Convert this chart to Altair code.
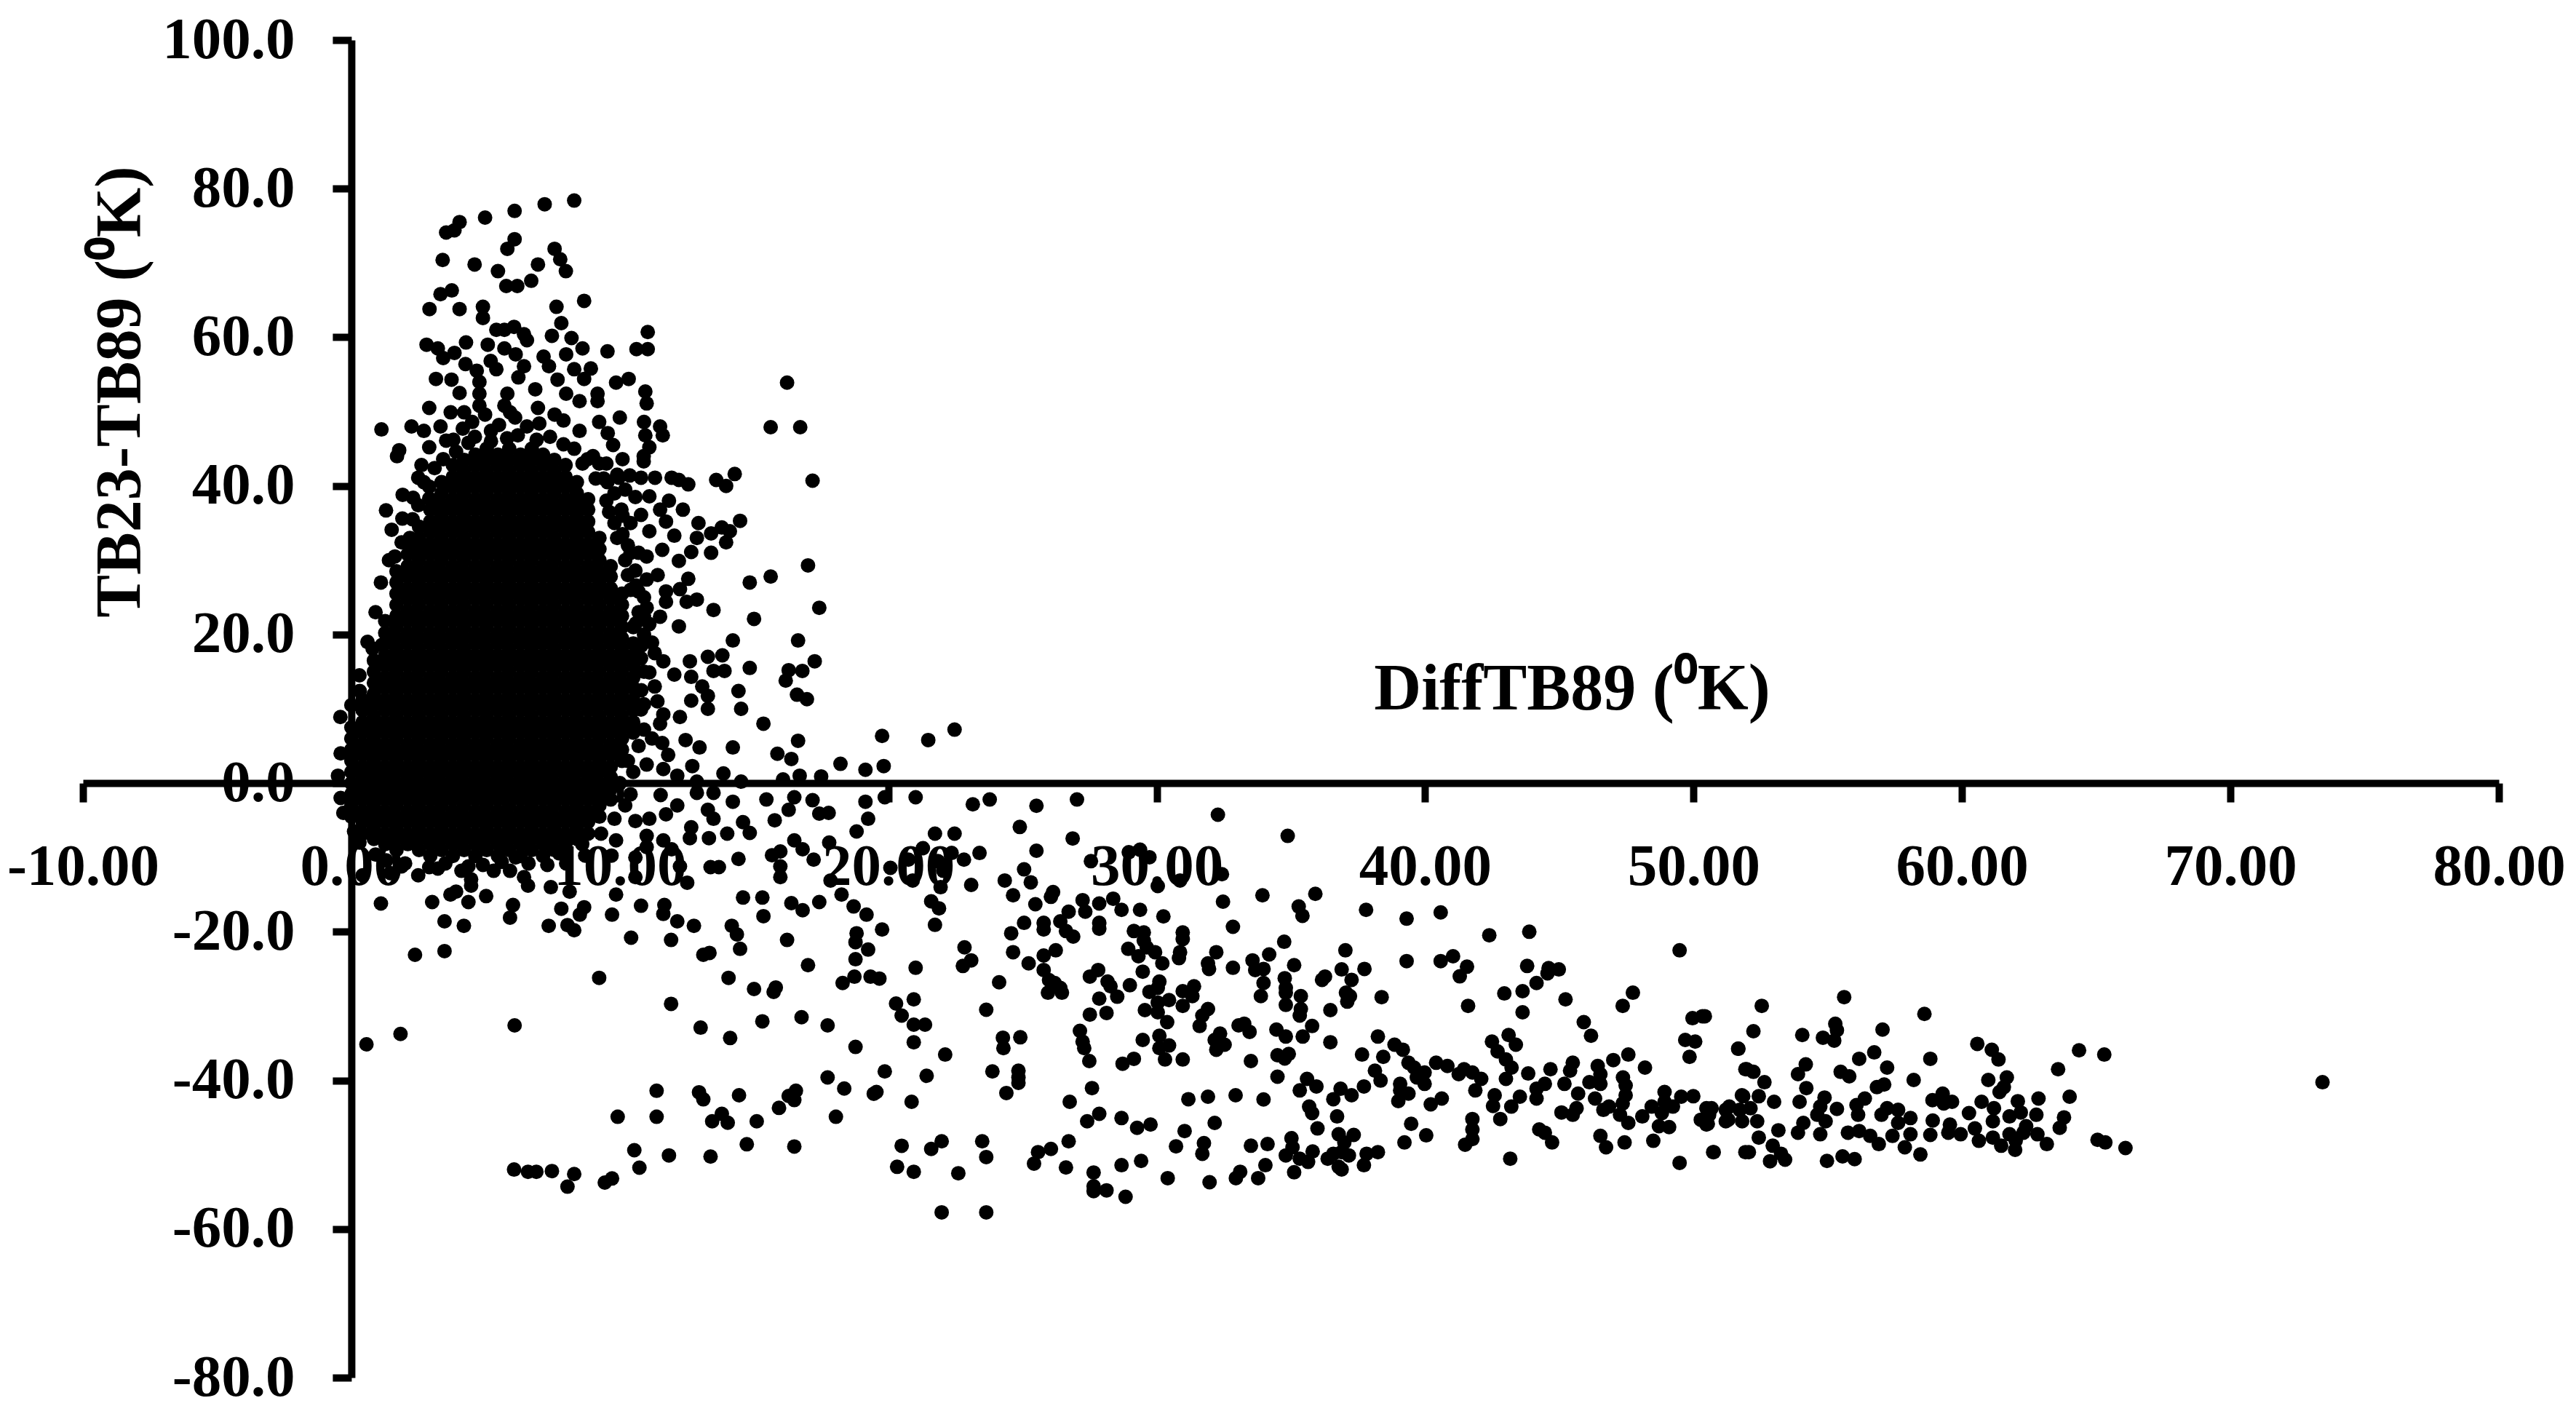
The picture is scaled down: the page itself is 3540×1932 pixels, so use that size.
import altair as alt
import pandas as pd

X_TICKS = [-10, 0, 10, 20, 30, 40, 50, 60, 70, 80]
Y_TICKS = [-80, -60, -40, -20, 0, 20, 40, 60, 80, 100]

# Dense core: individual dots cannot be told apart here, so these are columns of estimated positions
CORE = [
 (0.00, [-4.5,-3,-1.5,0,1.5,3,4.5,6,7.5]),
 (0.42, [-6.8,-5.2,-3.8,-2.2,-0.8,0.8,2.2,3.8,5.2,6.8,8.2,9.8,11.2]),
 (0.84, [-7.5,-6,-4.5,-3,-1.5,0,1.5,3,4.5,6,7.5,9,10.5,12,13.5,15,16.5]),
 (1.26, [-8.2,-6.8,-5.2,-3.8,-2.2,-0.8,0.8,2.2,3.8,5.2,6.8,8.2,9.8,11.2,12.8,14.2,15.8,17.2,18.8,20.2,21.8]),
 (1.68, [-9,-7.5,-6,-4.5,-3,-1.5,0,1.5,3,4.5,6,7.5,9,10.5,12,13.5,15,16.5,18,19.5,21,22.5,24,25.5,27,28.5]),
 (2.10, [-8.2,-6.8,-5.2,-3.8,-2.2,-0.8,0.8,2.2,3.8,5.2,6.8,8.2,9.8,11.2,12.8,14.2,15.8,17.2,18.8,20.2,21.8,23.2,24.8,26.2,27.8,29.2,30.8,32.2]),
 (2.52, [-9,-7.5,-6,-4.5,-3,-1.5,0,1.5,3,4.5,6,7.5,9,10.5,12,13.5,15,16.5,18,19.5,21,22.5,24,25.5,27,28.5,30,31.5,33,34.5]),
 (2.94, [-9.8,-8.2,-6.8,-5.2,-3.8,-2.2,-0.8,0.8,2.2,3.8,5.2,6.8,8.2,9.8,11.2,12.8,14.2,15.8,17.2,18.8,20.2,21.8,23.2,24.8,26.2,27.8,29.2,30.8,32.2,33.8,35.2,36.8,38.2]),
 (3.36, [-9,-7.5,-6,-4.5,-3,-1.5,0,1.5,3,4.5,6,7.5,9,10.5,12,13.5,15,16.5,18,19.5,21,22.5,24,25.5,27,28.5,30,31.5,33,34.5,36,37.5,39,40.5]),
 (3.78, [-9.8,-8.2,-6.8,-5.2,-3.8,-2.2,-0.8,0.8,2.2,3.8,5.2,6.8,8.2,9.8,11.2,12.8,14.2,15.8,17.2,18.8,20.2,21.8,23.2,24.8,26.2,27.8,29.2,30.8,32.2,33.8,35.2,36.8,38.2,39.8,41.2,42.8]),
 (4.20, [-9,-7.5,-6,-4.5,-3,-1.5,0,1.5,3,4.5,6,7.5,9,10.5,12,13.5,15,16.5,18,19.5,21,22.5,24,25.5,27,28.5,30,31.5,33,34.5,36,37.5,39,40.5,42,43.5]),
 (4.62, [-9.8,-8.2,-6.8,-5.2,-3.8,-2.2,-0.8,0.8,2.2,3.8,5.2,6.8,8.2,9.8,11.2,12.8,14.2,15.8,17.2,18.8,20.2,21.8,23.2,24.8,26.2,27.8,29.2,30.8,32.2,33.8,35.2,36.8,38.2,39.8,41.2,42.8,44.2]),
 (5.04, [-9,-7.5,-6,-4.5,-3,-1.5,0,1.5,3,4.5,6,7.5,9,10.5,12,13.5,15,16.5,18,19.5,21,22.5,24,25.5,27,28.5,30,31.5,33,34.5,36,37.5,39,40.5,42,43.5,45]),
 (5.46, [-9.8,-8.2,-6.8,-5.2,-3.8,-2.2,-0.8,0.8,2.2,3.8,5.2,6.8,8.2,9.8,11.2,12.8,14.2,15.8,17.2,18.8,20.2,21.8,23.2,24.8,26.2,27.8,29.2,30.8,32.2,33.8,35.2,36.8,38.2,39.8,41.2,42.8,44.2]),
 (5.88, [-9,-7.5,-6,-4.5,-3,-1.5,0,1.5,3,4.5,6,7.5,9,10.5,12,13.5,15,16.5,18,19.5,21,22.5,24,25.5,27,28.5,30,31.5,33,34.5,36,37.5,39,40.5,42,43.5,45]),
 (6.30, [-9.8,-8.2,-6.8,-5.2,-3.8,-2.2,-0.8,0.8,2.2,3.8,5.2,6.8,8.2,9.8,11.2,12.8,14.2,15.8,17.2,18.8,20.2,21.8,23.2,24.8,26.2,27.8,29.2,30.8,32.2,33.8,35.2,36.8,38.2,39.8,41.2,42.8,44.2]),
 (6.72, [-9,-7.5,-6,-4.5,-3,-1.5,0,1.5,3,4.5,6,7.5,9,10.5,12,13.5,15,16.5,18,19.5,21,22.5,24,25.5,27,28.5,30,31.5,33,34.5,36,37.5,39,40.5,42,43.5,45]),
 (7.14, [-9.8,-8.2,-6.8,-5.2,-3.8,-2.2,-0.8,0.8,2.2,3.8,5.2,6.8,8.2,9.8,11.2,12.8,14.2,15.8,17.2,18.8,20.2,21.8,23.2,24.8,26.2,27.8,29.2,30.8,32.2,33.8,35.2,36.8,38.2,39.8,41.2,42.8,44.2]),
 (7.56, [-9,-7.5,-6,-4.5,-3,-1.5,0,1.5,3,4.5,6,7.5,9,10.5,12,13.5,15,16.5,18,19.5,21,22.5,24,25.5,27,28.5,30,31.5,33,34.5,36,37.5,39,40.5,42,43.5]),
 (7.98, [-8.2,-6.8,-5.2,-3.8,-2.2,-0.8,0.8,2.2,3.8,5.2,6.8,8.2,9.8,11.2,12.8,14.2,15.8,17.2,18.8,20.2,21.8,23.2,24.8,26.2,27.8,29.2,30.8,32.2,33.8,35.2,36.8,38.2,39.8,41.2,42.8]),
 (8.40, [-7.5,-6,-4.5,-3,-1.5,0,1.5,3,4.5,6,7.5,9,10.5,12,13.5,15,16.5,18,19.5,21,22.5,24,25.5,27,28.5,30,31.5,33,34.5,36,37.5,39,40.5]),
 (8.82, [-6.8,-5.2,-3.8,-2.2,-0.8,0.8,2.2,3.8,5.2,6.8,8.2,9.8,11.2,12.8,14.2,15.8,17.2,18.8,20.2,21.8,23.2,24.8,26.2,27.8,29.2,30.8,32.2,33.8,35.2,36.8,38.2]),
 (9.24, [-4.5,-3,-1.5,0,1.5,3,4.5,6,7.5,9,10.5,12,13.5,15,16.5,18,19.5,21,22.5,24,25.5,27,28.5,30,31.5,33]),
 (9.66, [-2.2,-0.8,0.8,2.2,3.8,5.2,6.8,8.2,9.8,11.2,12.8,14.2,15.8,17.2,18.8,20.2,21.8,23.2,24.8,26.2,27.8,29.2]),
 (10.08, [3,4.5,6,7.5,9,10.5,12,13.5,15,16.5,18,19.5,21,22.5,24,25.5]),
 (10.50, [6.8,8.2,9.8,11.2,12.8,14.2,15.8,17.2,18.8]),
]

EDGE = [
 (3.8,46.2),(4.6,46.6),(5.2,46),(5.8,46.4),(6.2,46.8),(6.9,46.2),(7.4,46.6),(7.9,45.6),(8.3,45),(8.8,43.6),(9.1,41),(9.5,38),(9.8,35),(10.1,33.5),
 (3.1,42.4),(2.7,40.5),(2.3,38.4),(1.9,35.6),(1.4,30),(1.1,27),(0.9,23),(0.6,19),(0.3,14.5),(5.5,48.2),(6.1,49.2),(7.0,48.4),(7.9,48.8),(4.5,48.6),(3.9,44.6),
 (10.3,28),(10.6,26.6),(10.7,23),(10.5,21),(11.1,21.4),(10.8,18.5),(11.3,17.5),(10.9,15),(11.4,11),(10.9,10.6),(11.5,8),(10.7,5),(11.8,3.8),(10.2,-3),(9.8,-4.8),(9.3,-6.8),(8.6,-8.2),(8.0,-10.8),(7.3,-11),
 (0.3,-8),(0.9,-9.6),(1.3,-10.4),(2,-10.8),(2.9,-11.3),(3.5,-10.8),(4.1,-11.8),(4.9,-11),(5.3,-11.8),(6.6,-10.8),(0.1,-6.5),(-0.3,-4),
 (9.0,44),(9.5,43),(9.9,41.5),(9.4,41),(9.8,39),(10.2,39.5),(9.6,36.5),(10.1,36),(10.4,35),(9.9,33),(10.4,31),(10.7,31),(10.4,26),(10.9,25),(10.9,22.5),
]

UPPER = [
 (8.30,78.4),(7.2,77.9),(6.08,77),(4.98,76.1),(4.03,75.5),(3.84,74.4),(3.53,74.1),(6.08,73.2),(5.81,71.9),(7.57,71.9),
 (7.78,70.5),(7.99,68.9),(3.40,70.4),(4.59,69.8),(5.46,68.9),(6.95,69.8),(6.70,67.6),(5.77,66.9),(6.18,66.9),(3.74,66.3),
 (3.32,65.8),(2.91,63.8),(4.03,63.8),(4.90,64.1),(4.90,62.6),(7.64,64.1),(8.67,64.9),(7.82,61.9),(11.04,60.7),(10.62,58.4),
 (11.04,58.4),(9.54,58.1),(5.4,61),(5.7,61),(6.06,61.4),(6.43,60.4),(7.47,60.2),(8.2,59.9),(2.8,59),(4.27,59.3),
 (5.08,59),(5.7,58.5),(6.54,59.6),(8.61,58.5),(3.22,58.5),(3.42,57.2),(3.84,57.9),(5.19,56.8),(6.12,57.7),(7.16,57.4),
 (8.0,57.7),(4.25,56.4),(5.4,55.7),(6.43,56.1),(7.36,56.1),(8.3,55.7),(8.92,55.8),(4.67,55.5),(3.15,54.4),(3.73,54.3),
 (4.77,54),(6.22,54.6),(7.68,54.3),(8.67,54.4),(9.86,53.9),(10.33,54.4),(10.95,52.7),(4.03,52.5),(4.77,52.4),(5.81,52.4),
 (6.85,53),(8.0,52.4),(9.17,52.4),(9.17,51.4),(11,51.1),(2.9,50.5),(4.77,50.8),(5.7,50.8),(6.95,50.5),(8.5,51.4),
 (3.7,49.9),(4.2,49.9),(4.98,49.6),(5.91,49.9),(7.57,49.6),(10,49.2),(9.23,48.6),(10.9,48.6),(11.5,48),(11.6,46.8),
 (10.95,46.8),(1.12,47.6),(2.24,48),(2.7,47.4),(3.32,48),(4.15,47.7),(5.2,47.4),(6.54,48),(8.5,47.4),(9.55,47.1),
 (11.1,45.2),(1.78,44.8),(1.7,44),(2.9,45.2),(3.53,46.1),(4.36,45.8),(9.75,45.5),(10.89,44),(10.89,43.3),(3.42,43.6),
 (10.1,43.6),(2.61,42.8),(8.61,43),(9.23,43),(2.49,41.1),(9.54,40.5),(9.96,41.1),(10.37,41.4),(10.79,41.1),(11.31,41.1),
 (11.93,41.1),(12.55,40.2),(12.2,40.8),(14.28,41.6),(13.59,40.8),(13.96,40),(17.18,40.7),(16.23,53.9),(15.62,47.9),(16.72,47.9),
 (1.91,38.8),(2.9,39.9),(2.9,38.3),(1.29,36.7),(2.49,37.4),(2.28,35.5),(10.58,38.5),(11.1,38.6),(11.83,38),(12.35,36.8),
 (10.79,36.1),(10.06,36.8),(11.5,36.8),(11.72,35.2),(12.93,35),(14.48,35.3),(13.8,34.4),(14.1,33.9),(13.4,33.6),(12.87,33),
 (11.1,33.9),(12.03,33.3),(13.96,32.4),(1.5,34.1),(1.87,32.4),(2.18,33),(1.62,30.5),(13.4,31),(12.66,31.1),(11.58,31.4),
 (11,30.5),(12.2,29.9),(10.58,28.6),(17.01,29.3),(15.62,27.8),(14.84,27),(12.55,27.5),(11.41,28),(11,27.4),(12.24,26.1),
 (10.69,25.8),(11.72,25.8),(12.87,24.7),(12.49,24.4),(11.72,24.4),(17.43,23.6),(13.49,23.3),(11,23.6),(15,22.1),(11.5,22.4),
 (12.2,21.1),(14.21,19.2),(11.2,18.9),(16.64,19.2),(0.79,18.1),(1.14,18.6),(13.28,17),(13.82,17.2),(12.61,16.4),(10.79,16.8),
 (11.62,16.4),(17.26,16.4),(11.1,14.9),(13.49,15.1),(13.9,15.1),(14.84,15.5),(16.8,15.1),(16.29,15.2),(16.18,13.8),(12.03,14.6),
 (12.66,14.3),(11.3,13),(13.07,13),(14.42,12.4),(13.28,11.75),(16.6,11.9),(16.97,11.3),(12.66,11.1),(14.52,10),(13.28,10),
 (11.62,9.25),(10.79,9.9),(12.24,8.9),(15.35,8),(-0.41,8.9),(0,10.5),(0.31,12.4),(10.3,32),(10.2,30),(10.6,21.5),(10.9,20),
 (10.8,12.5),(10.9,7.2),(11.2,6),(10.3,3),(10.5,1.5),(11,2.5),(10,0),(10.4,-1.5),(-0.5,1),(-0.4,4),(-0.4,-2),
]

MIDDLE = [
 (12.45,5.8),(12.97,4.8),(14.21,4.8),(15.87,3.95),(16.64,5.7),(16.39,3.25),(11.58,5.4),(18.22,2.6),(19.15,1.8),(12.7,2.3),
 (13.86,1.3),(16.7,1),(17.5,0.9),(12.14,1),(11.62,1.9),(12.87,0.2),(14.52,0.2),(16.08,0.5),(12.87,-1.3),(13.49,-1.3),
 (11.52,-1.6),(15.46,-2.2),(14.21,-2.5),(16.5,-1.9),(17.18,-2.3),(19.15,-2.5),(12.14,-3.0),(13.28,-3.6),(16.29,-3.6),(17.43,-4.1),
 (17.78,-4.0),(11.72,-4.2),(11.1,-4.8),(10.58,-5.1),(13.49,-4.8),(15.77,-5),(19.25,-4.8),(14.59,-5.25),(12.66,-5.95),(14.84,-6.7),
 (14,-6.8),(18.82,-6.5),(12.61,-7.4),(13.32,-7.4),(11,-7.1),(11.62,-7.7),(9.86,-7.7),(16.5,-7.7),(17.8,-8),(7.26,-8),
 (11,-8.6),(11.93,-8.9),(16.81,-8.9),(15.98,-9.2),(15.67,-9.7),(17.22,-10.3),(14.42,-10.2),(7.74,-9.45),(8.71,-9.75),(9.69,-9.75),
 (10.58,-10),(12.24,-11.2),(13.38,-11.3),(13.69,-11.3),(15.98,-11.2),(10.58,-12.65),(12.51,-13.4),(15.98,-12.65),(17.85,-13.1),(5.6,-10.6),
 (6.12,-10),(4.36,-11.2),(3.22,-11.5),(2.49,-12.4),(0.42,-12.4),(1.45,-12.1),(1.87,-11.2),(5.91,-11.8),(4.46,-12.95),(6.43,-12.65),
 (6.58,-13.8),(7.43,-14),(8.13,-14.6),(4.46,-13.8),(9.86,-15),(3.9,-14.6),(3.69,-15),(5.02,-15.2),(4.36,-16),(14.59,-15.4),
 (15.31,-15.4),(18.26,-15),(1.1,-16.2),(3.01,-16),(6.02,-16.4),(7.82,-16.9),(8.67,-16.7),(10.79,-16.5),(11.66,-16.4),(16.39,-16.15),
 (16.81,-17.1),(17.43,-16),(18.71,-16.6),(5.91,-18.1),(8.51,-17.7),(9.71,-17.7),(11.62,-17.6),(15.35,-17.9),(19.19,-17.7),(3.47,-18.6),
 (4.19,-19.2),(7.35,-19.2),(8.05,-19.1),(8.3,-19.8),(12.14,-18.6),(12.76,-19.2),(14.17,-19.2),(14.36,-20.35),(10.42,-20.8),(11.91,-21.1),
 (16.23,-21.1),(18.82,-20.2),(18.78,-21.4),(14.48,-22.3),(19.25,-22.4),(3.47,-22.6),(2.37,-23.1),(13.11,-23.1),(13.34,-22.85),(18.78,-23.7),
 (17.01,-24.5),(9.23,-26.2),(14.05,-26.2),(18.74,-26.05),(19.34,-26.05),(18.3,-26.9),(15,-27.7),(15.81,-27.5),(15.73,-28.1),(11.91,-29.7),
 (16.77,-31.5),(15.31,-32.05),(17.74,-32.6),(6.08,-32.6),(13.01,-32.9),(14.11,-34.3),(1.83,-33.75),(0.56,-35.15),(18.78,-35.5),(17.74,-39.6),
 (11.37,-41.4),(12.95,-41.6),(13.11,-42.55),(14.44,-42),(16.56,-41.4),(16.29,-42.1),(16.5,-42.65),(18.36,-41.1),(19.46,-41.8),(15.93,-43.7),
 (9.92,-44.9),(11.37,-44.9),(13.8,-44.5),(13.44,-45.5),(14.02,-45.7),(15.1,-45.5),(18.05,-44.9),(14.73,-48.6),(16.5,-48.9),(10.54,-49.4),
 (11.83,-50.1),(13.38,-50.25),(10.73,-51.75),(6.06,-52),(6.58,-52.3),(6.89,-52.3),(7.47,-52.2),(8.3,-52.6),(8.05,-54.3),(9.71,-53.2),(9.44,-53.75),
]

CENTRE = [
 (19.77,6.35),(21.49,5.8),(22.47,7.2),(19.83,2.3),(19.87,-1.9),(21.02,-1.9),(23.15,-2.85),(23.78,-2.2),(25.52,-3.05),(27.03,-2.2),
 (32.28,-4.25),(24.9,-5.9),(26.87,-7.45),(34.88,-7.1),(21.74,-6.8),(22.47,-6.8),(25.52,-9.1),(23.4,-9.4),(21.29,-8.75),(22.36,-9.4),
 (22.82,-10.3),(20.08,-11.4),(20.75,-10.3),(21.85,-10.5),(22.05,-11.8),(27.55,-10.5),(28.96,-9.3),(29.38,-8.96),(29.73,-9.97),(32.43,-12.25),
 (25.06,-11.6),(24.34,-13.1),(25.31,-13.35),(23.09,-13.7),(20.91,-13.1),(21.95,-14),(30.04,-13.85),(30.87,-13.1),(26.14,-14.65),(24.65,-15.1),
 (26.06,-15.3),(25.48,-16.3),(35.91,-14.9),(33.94,-15.1),(32.47,-15.95),(27.24,-15.75),(27.86,-16.2),(28.38,-15.55),(21.6,-15.9),(21.89,-16.85),
 (28.69,-17.05),(29.38,-17.05),(26.72,-17.3),(27.34,-17.3),(35.29,-16.6),(35.43,-17.85),(37.8,-17.05),(40.58,-17.4),(39.31,-18.24),(30.25,-17.93),
 (26.41,-18.6),(25.06,-18.8),(25.79,-18.8),(27.86,-18.8),(21.74,-19.07),(19.77,-19.7),(32.84,-19.33),(27.86,-19.6),(25.79,-19.7),(26.62,-19.9),
 (29.15,-19.9),(29.52,-20.1),(30.97,-20.1),(43.88,-20),(24.58,-20.2),(42.39,-20.47),(26.89,-20.65),(30.97,-21),(34.75,-21.35),(29.52,-21.2),
 (28.94,-22.3),(29.63,-22.1),(22.84,-22.1),(37.03,-22.5),(49.48,-22.5),(26.24,-22.5),(24.65,-22.75),(32.22,-22.75),(29.94,-22.75),(30.87,-22.75),
 (29.32,-23.3),(30.83,-23.55),(25.79,-23.2),(34.19,-23.05),(23.09,-23.85),(39.31,-23.95),(40.58,-23.95),(41.04,-23.3),(25.23,-24.25),(30.21,-24.25),
 (33.57,-23.85),(31.91,-24.25),(35.12,-24.5),(22.78,-24.6),(21.02,-24.85),(31.95,-25),(32.84,-24.85),(33.67,-25.15),(33.98,-25),(36.89,-25.07),
 (37.74,-25),(41.56,-24.7),(43.8,-24.6),(44.98,-25.07),(44.6,-24.9),(27.82,-25.15),(25.79,-25.15),(29.48,-25.37),(27.51,-26.03),(41.29,-26),
 (44.56,-25.6),(19.67,-26.3),(24.13,-26.8),(25.99,-26.5),(28.17,-26.7),(34.77,-26.25),(36.27,-26.03),(37.26,-26.47),(33.98,-26.9),(36.16,-26.47),
 (44.15,-26.9),(30.1,-26.7),(26.2,-26.9),(28.28,-27.34),(29,-27.2),(31.39,-27.34),(30.04,-27.56),(34.81,-27.56),(26.41,-27.56),(30.97,-28),
 (29.73,-28.09),(43.63,-28),(25.95,-28.2),(26.47,-28.2),(47.74,-28.2),(37.05,-28.2),(34.81,-28.2),(33.88,-28.66),(35.37,-28.66),(42.95,-28.3),
 (37.2,-28.66),(38.38,-28.8),(45.23,-29.1),(28.53,-28.74),(27.86,-29),(31.33,-28.66),(20.95,-29.1),(30.46,-29.2),(37.1,-29.4),(30.04,-29.53),
 (20.29,-29.66),(34.81,-29.84),(30.97,-29.97),(31.91,-30.4),(41.6,-29.97),(47.36,-29.97),(35.37,-30.4),(23.65,-30.5),(29.56,-30.54),(36.47,-30.54),
 (27.51,-31.15),(28.13,-30.93),(43.63,-30.84),(30.04,-30.84),(35.33,-31.28),(31.7,-31.28),(20.5,-31.28),(49.96,-31.63),(50.33,-31.37),(45.91,-32.16),
 (30.39,-32.16),(31.6,-32.68),(33.05,-32.6),(35.79,-32.68),(20.95,-32.5),(21.37,-32.5),(33.26,-32.37),(34.46,-33.16),(27.14,-33.34),(33.46,-33.47),
 (46.18,-34),(32.36,-33.7),(43.11,-33.9),(38.24,-34.1),(35.44,-34.1),(34.81,-34.1),(24.27,-34.26),(24.92,-34.2),(32.16,-34.56),(30.1,-34),
 (49.69,-34.56),(50.06,-34.78),(29.48,-34.56),(27.24,-34.78),(20.95,-34.87),(36.47,-34.87),(42.49,-34.78),(43.38,-35.2),(32.53,-35.2),(30.46,-35.3),
 (30.1,-35.66),(38.86,-35.2),(24.29,-35.66),(27.3,-35.66),(32.22,-35.87),(39.17,-35.87),(42.7,-36.1),(51.66,-35.74),(22.12,-36.53),(37.65,-36.53),
 (34.5,-36.62),(34.92,-36.44),(47.57,-36.53),(49.85,-36.84),(30.31,-37.19),(30.97,-37.19),(29.15,-37.1),(38.44,-36.84),(34.77,-37.06),(43.01,-37.19),
 (27.49,-37.4),(33.51,-37.4),(45.5,-37.63),(47.01,-37.27),(39.38,-37.63),(28.73,-37.76),(40.41,-37.63),(46.43,-38.06),(48.19,-38.28),(43.22,-38.28),
 (39.59,-38.28),(40.83,-38.06),(44.67,-38.5),(19.87,-38.8),(45.4,-38.7),(23.88,-38.8),(24.85,-38.7),(51.93,-38.5),(41.45,-38.5),(38.13,-38.7),
 (39.98,-38.94),(41.25,-39.16),(43.84,-39.07),(46.53,-39.16),(47.37,-39.6),(21.43,-39.38),(34.5,-39.5),(24.85,-39.6),(38.34,-40.03),(41.76,-38.94),
 (39.69,-39.6),(42.09,-39.8),(35.6,-39.8),(43.01,-39.8),(24.85,-40.34),(45.19,-40.47),(46.12,-40.25),(39.07,-40.47),(35.95,-40.82),(37.72,-40.82),
 (39.98,-40.47),(44.46,-40.47),(47.47,-40.69),(46.53,-40.47),(27.59,-41.04),(41.87,-41.35),(44.15,-41.13),(36.85,-41.13),(39.07,-41.35),(35.33,-41.35),
 (19.56,-41.56),(24.4,-41.7),(48.92,-41.56),(39.38,-41.78),(45.7,-41.78),(37.26,-42),(32.94,-42),(31.91,-42.2),(49.54,-42.2),(49.99,-42.13),
 (42.59,-42),(47.47,-42),(44.15,-42.44),(40.62,-42.44),(43.53,-42.2),(36.58,-42.53),(46.33,-42.44),(31.18,-42.53),(39,-42.79),(33.98,-42.57),
 (48.92,-42.88),(51.8,-42),(26.76,-42.88),(20.87,-42.88),(40.21,-43.23),(43.21,-43.53),(42.53,-43.45),(47.36,-43.1),(48.44,-43.53),(50.48,-43.75),
 (35.68,-43.53),(46.85,-43.53),(51.2,-43.97),(46.64,-43.97),(45.64,-43.75),(35.79,-44.4),(49.23,-43.53),(51.72,-43.97),(50.58,-44.63),(48.82,-44.4),
 (47.26,-44.63),(45.08,-44.32),(45.5,-44.63),(48.09,-44.85),(41.76,-45.2),(42.8,-45.2),(36.72,-44.85),(51.2,-45.5),(47.57,-45.72),(50.27,-45.3),
 (27.86,-44.5),(27.41,-45.5),(28.69,-45.07),(29.77,-45.94),(29.27,-46.38),(32.16,-45.72),(39.48,-45.85),(48.71,-46.16),(49.09,-46.29),(44.25,-46.6),
 (50.48,-45.94),(35.99,-46.47),(41.76,-46.6),(31.04,-46.82),(44.46,-47.04),(36.78,-47.25),(37.34,-47.34),(40.04,-47.4),(41.76,-47.9),(46.53,-47.47),
 (35.02,-47.78),(36.99,-48.35),(21.99,-48.2),(23.5,-48.2),(26.72,-48.2),(31.76,-48.44),(48.5,-48.13),(44.73,-48.35),(39.23,-48.35),(20.5,-48.8),
 (21.6,-49.22),(47.43,-48.35),(34.13,-48.57),(33.51,-48.79),(41.49,-48.65),(30.72,-48.87),(26.06,-49.22),(46.74,-49),(25.58,-49.66),(38.24,-49.66),
 (35.06,-49),(35.81,-49.57),(31.7,-49.88),(37.82,-49.88),(36.89,-49.66),(36.58,-49.88),(34.81,-50.1),(50.75,-49.66),(23.65,-50.32),(37.16,-50.1),
 (51.93,-49.66),(35.33,-50.54),(36.37,-50.54),(43.17,-50.54),(29.42,-50.84),(25.43,-51.2),(35.64,-50.97),(37.72,-51.41),(34.05,-51.41),(28.69,-51.41),
 (49.48,-51.1),(20.33,-51.63),(26.62,-51.72),(36.78,-51.63),(20.95,-52.3),(33.11,-52.3),(27.65,-52.4),(22.61,-52.5),(35.12,-52.37),(36.89,-51.98),
 (30.41,-53.16),(32.95,-53.16),(33.78,-53.16),(31.97,-53.7),(27.65,-54.25),(28.13,-54.8),(27.65,-54.9),(28.84,-55.66),(21.99,-57.76),(23.65,-57.76),
]

RIGHT = [
 (73.43,-40.25),(55.61,-28.8),(52.54,-29.97),(58.6,-31.06),(50.42,-31.37),(52.23,-33.38),(55.28,-32.38),(55.34,-33.25),(57.04,-33.16),(54.05,-33.9),
 (54.82,-34.26),(55.24,-34.65),(60.57,-35.09),(61.11,-35.88),(61.36,-37.19),(51.67,-35.74),(64.36,-35.96),(65.3,-36.53),(56.73,-36.23),(56.17,-37.1),
 (58.82,-37.1),(57.21,-38.28),(54.18,-37.85),(53.89,-39.16),(63.58,-38.5),(51.98,-38.5),(52.23,-38.85),(55.48,-38.85),(55.8,-39.46),(52.64,-40.25),
 (58.2,-39.95),(60.98,-39.95),(61.67,-39.6),(57.1,-40.56),(56.83,-40.91),(61.56,-40.91),(61.4,-41.56),(54.2,-41.04),(64.01,-42.2),(51.85,-42.13),
 (52.43,-42.13),(53.0,-42.88),(53.95,-42.88),(54.88,-42.31),(56.38,-42.44),(59.28,-41.78),(58.9,-42.66),(59.63,-42.88),(59.32,-43.1),(60.73,-42.88),
 (62.08,-42.8),(62.85,-42.44),(56.07,-43.32),(54.72,-43.53),(55.34,-43.84),(57.21,-43.75),(57.62,-43.97),(51.33,-43.53),(50.67,-43.75),(52.12,-43.75),
 (61.19,-43.75),(60.26,-44.4),(62.19,-44.32),(62.77,-44.63),(63.8,-44.98),(57,-44.63),(58.08,-45.07),(61.77,-44.85),(56.13,-44.63),(54.61,-44.63),
 (51.29,-45.3),(51.81,-45.5),(52.37,-45.5),(54.09,-45.72),(54.92,-45.5),(58.91,-45.41),(61.15,-45.5),(50.53,-45.85),(57.62,-45.72),(59.55,-45.94),
 (60.48,-46.47),(62.39,-46.16),(63.64,-46.38),(53.16,-46.72),(53.89,-47.04),(54.72,-47.25),(55.75,-47.04),(56.17,-46.82),(58.08,-47.25),(58.82,-47.34),
 (59.49,-47.04),(59.95,-47.25),(61.15,-47.7),(61.77,-47.25),(62.29,-47.04),(62.81,-47.25),(56.58,-47.47),(57.41,-47.47),(52.43,-47.7),(60.63,-48.13),
 (62,-48.13),(65.05,-48),(65.34,-48.35),(63.16,-48.57),(56.9,-48.57),(61.46,-48.79),(52.95,-48.79),(57.87,-49),(66.09,-49.1),(61.98,-49.35),
 (50.73,-49.66),(52.06,-49.66),(58.45,-49.97),(53.26,-49.88),(55.55,-50.23),(56,-50.6),(54.97,-50.84),(53.41,-50.67),(52.85,-50.88),
]

W = 3320
H = 1838
FONT = "Liberation Serif"
FS = 81

points = [(x, y) for x, ys in CORE for y in ys] + EDGE + UPPER + MIDDLE + CENTRE + RIGHT
df = pd.DataFrame(points, columns=["x", "y"])

common = dict(
    titleFont=FONT, titleFontWeight="bold", titleColor="black",
    labelFont=FONT, labelFontSize=FS, labelFontWeight="bold", labelColor="black",
    labelOverlap=False, labelBound=False, labelFlush=False, labelLimit=0,
    labelExpr="replace(datum.label,'\u2212','-')",
    tickSize=26, tickWidth=10, tickColor="black", domainWidth=10, domainColor="black", grid=False,
)

chart = alt.Chart(df).mark_circle(color="black", opacity=1, size=400).encode(
    x=alt.X("x:Q", scale=alt.Scale(domain=[-10, 80], nice=False, zero=False),
            axis=alt.Axis(values=X_TICKS, format=".2f", orient="bottom", offset=-H * 80 / 180,
                          title="DiffTB89 (⁰K)", titleFontSize=90, titleX=2046, titleY=-173, labelPadding=49, **common)),
    y=alt.Y("y:Q", scale=alt.Scale(domain=[-80, 100], nice=False, zero=False),
            axis=alt.Axis(values=Y_TICKS, format=".1f", orient="left", offset=-W * 10 / 90,
                          title="TB23-TB89 (⁰K)", titleFontSize=88, titleX=-273, titleY=483, labelPadding=52, **common)),
).properties(width=W, height=H, padding={"left": 1, "top": 6, "right": 0, "bottom": 0}, background="white").configure_view(stroke=None)

chart.save("out.html", embed_options={"renderer": "svg", "actions": False})
